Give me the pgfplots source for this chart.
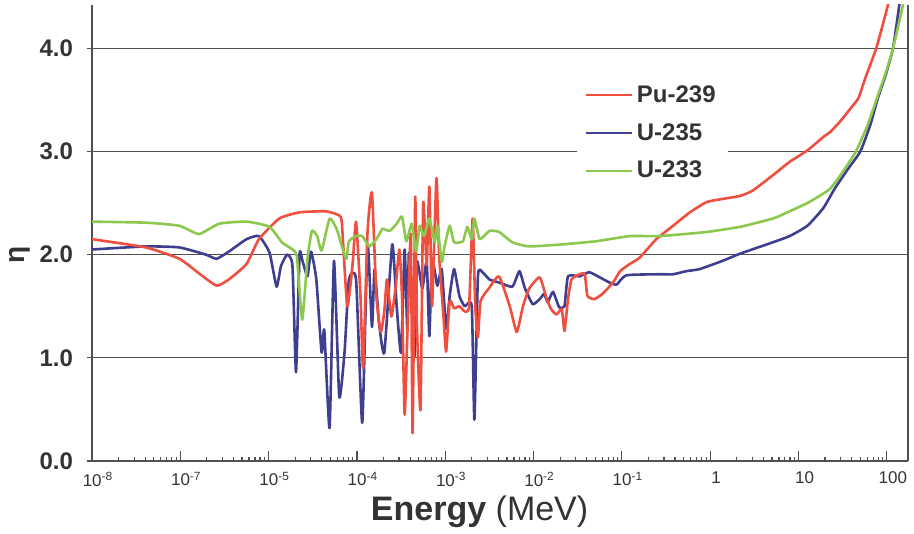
\documentclass[border=0pt]{standalone}
\usepackage{fontspec}
\setmainfont{Liberation Sans}
\usepackage{pgfplots}
\pgfplotsset{compat=1.18}
\definecolor{cpu}{HTML}{F04E3E}
\definecolor{cu5}{HTML}{3F3F8F}
\definecolor{cu3}{HTML}{8CC84E}
\definecolor{txt}{HTML}{333333}
\definecolor{gridc}{HTML}{505050}

\begin{document}
\begin{tikzpicture}
% minor ticks: 2..9 within each decade (x is log10 of energy)
\def\mtl{}
\foreach \d in {-8,...,1}{\foreach \o in {0.301,0.477,0.602,0.699,0.778,0.845,0.903,0.954}{\pgfmathsetmacro\v{\d+\o}\xdef\mtl{\mtl\v,}}}
\begin{axis}[
    scale only axis,
    width=408pt, height=228pt,
    xmin=-8, xmax=1.24,
    ymin=0, ymax=4.42,
    axis x line*=bottom,
    axis y line*=box,
    ytick pos=left,
    axis line style={gridc, line width=0.7pt},
    xtick={-8,-7,-6,-5,-4,-3,-2,-1,0,1},
    xticklabels={10\textsuperscript{-8},10\textsuperscript{-7},10\textsuperscript{-5},10\textsuperscript{-4},10\textsuperscript{-3},10\textsuperscript{-2},10\textsuperscript{-1},1,10,100},
    minor xtick/.expanded={\mtl 9},
    xtick align=inside,
    ytick={0,1,2,3,4},
    yticklabels={0.0,1.0,2.0,3.0,4.0},
    ytick align=center,
    major tick length=5pt,
    minor tick length=2pt,
    tick style={gridc, line width=0.6pt},
    xticklabel style={font=\fontsize{8.5}{10}\selectfont, text=txt, xshift=3pt, yshift=-2pt},
    yticklabel style={font=\bfseries\fontsize{12}{14}\selectfont, text=txt, xshift=-3.5pt},
    ymajorgrids,
    grid style={gridc, line width=0.6pt},
    xlabel={\textbf{Energy} (MeV)},
    every axis x label/.style={at={(rel axis cs:0.475,0)}, anchor=center, yshift=-25.5pt, font=\fontsize{17}{19}\selectfont, text=txt},
    ylabel={\textbf{η}},
    every axis y label/.style={at={(rel axis cs:0,0.452)}, anchor=center, xshift=-36pt, rotate=90, font=\fontsize{14}{16}\selectfont, text=txt},
    legend style={at={(rel axis cs:0.594,0.855)}, anchor=north west, draw=none, fill=white,
        font=\bfseries\fontsize{12}{14}\selectfont, text=txt, row sep=5pt,
        inner xsep=4pt, inner ysep=5pt, cells={anchor=west}},
    legend image code/.code={\draw[#1] (0pt,0pt) -- (23pt,0pt);},
    every axis plot/.append style={line width=1.3pt, line join=round, smooth, tension=0.3},
]
\addlegendimage{draw=cpu, line width=0.9pt}\addlegendentry{Pu-239}
\addlegendimage{draw=cu5, line width=0.9pt}\addlegendentry{U-235}
\addlegendimage{draw=cu3, line width=0.9pt}\addlegendentry{U-233}

% U-235
\addplot[cu5, forget plot] coordinates {(-8.00,2.05) (-7.39,2.08) (-7.01,2.07) (-6.71,2.00) (-6.59,1.96) (-6.45,2.03) (-6.25,2.15) (-6.11,2.18) (-5.99,2.02) (-5.91,1.69) (-5.86,1.89) (-5.79,2.00) (-5.73,1.89) (-5.69,0.86) (-5.65,2.00) (-5.62,1.95) (-5.56,1.79) (-5.52,2.03) (-5.46,1.76) (-5.40,1.05) (-5.37,1.27) (-5.31,0.32) (-5.26,1.94) (-5.20,0.62) (-5.14,1.06) (-5.09,1.76) (-5.01,1.76) (-4.94,0.37) (-4.88,2.10) (-4.83,1.30) (-4.80,1.86) (-4.75,1.34) (-4.69,1.05) (-4.60,2.10) (-4.55,1.50) (-4.50,1.05) (-4.46,2.05) (-4.43,1.28) (-4.41,2.02) (-4.35,1.01) (-4.32,1.93) (-4.26,1.67) (-4.21,1.93) (-4.18,1.21) (-4.15,1.96) (-4.09,1.70) (-4.04,1.86) (-3.99,1.28) (-3.95,1.60) (-3.90,1.86) (-3.84,1.60) (-3.78,1.50) (-3.70,1.50) (-3.67,0.40) (-3.63,1.79) (-3.58,1.83) (-3.50,1.76) (-3.39,1.73) (-3.24,1.69) (-3.16,1.84) (-3.10,1.68) (-3.01,1.52) (-2.93,1.57) (-2.88,1.62) (-2.84,1.54) (-2.78,1.64) (-2.71,1.49) (-2.65,1.50) (-2.61,1.79) (-2.48,1.79) (-2.37,1.83) (-2.25,1.78) (-2.14,1.73) (-2.06,1.71) (-1.95,1.80) (-1.57,1.81) (-1.42,1.81) (-1.27,1.84) (-1.12,1.86) (-0.86,1.94) (-0.66,2.01) (-0.29,2.12) (-0.10,2.18) (0.10,2.28) (0.28,2.45) (0.41,2.64) (0.56,2.83) (0.70,3.00) (0.81,3.25) (0.90,3.52) (0.99,3.75) (1.07,4.00) (1.14,4.41) (1.17,4.60)};

% Pu-239
\addplot[cpu, forget plot] coordinates {(-8.00,2.15) (-7.39,2.07) (-7.01,1.96) (-6.79,1.82) (-6.59,1.70) (-6.45,1.76) (-6.25,1.91) (-6.11,2.15) (-5.88,2.35) (-5.65,2.41) (-5.35,2.42) (-5.20,2.38) (-5.17,2.30) (-5.11,1.50) (-5.05,1.90) (-5.01,2.32) (-4.96,1.60) (-4.93,0.90) (-4.88,2.22) (-4.83,2.60) (-4.78,1.60) (-4.73,1.25) (-4.69,1.45) (-4.66,1.76) (-4.61,1.40) (-4.56,1.70) (-4.52,2.05) (-4.49,1.60) (-4.46,0.45) (-4.43,1.20) (-4.39,2.20) (-4.37,0.27) (-4.34,2.56) (-4.32,1.30) (-4.28,0.50) (-4.25,2.50) (-4.21,1.90) (-4.18,2.66) (-4.15,1.50) (-4.10,2.74) (-4.07,2.00) (-4.02,1.40) (-3.99,1.06) (-3.95,1.55) (-3.90,1.48) (-3.84,1.50) (-3.78,1.45) (-3.73,1.50) (-3.69,2.35) (-3.66,1.50) (-3.63,1.20) (-3.60,1.55) (-3.50,1.68) (-3.39,1.79) (-3.27,1.50) (-3.19,1.25) (-3.12,1.50) (-3.05,1.67) (-2.93,1.78) (-2.85,1.57) (-2.80,1.47) (-2.74,1.42) (-2.68,1.47) (-2.65,1.26) (-2.61,1.57) (-2.57,1.76) (-2.48,1.81) (-2.42,1.81) (-2.39,1.60) (-2.31,1.57) (-2.22,1.62) (-2.10,1.73) (-2.02,1.84) (-1.91,1.91) (-1.80,1.97) (-1.61,2.15) (-1.42,2.28) (-1.23,2.41) (-1.04,2.51) (-0.86,2.54) (-0.66,2.57) (-0.52,2.62) (-0.29,2.77) (-0.10,2.90) (0.10,3.01) (0.28,3.14) (0.36,3.19) (0.47,3.29) (0.62,3.45) (0.68,3.52) (0.76,3.72) (0.88,4.00) (1.01,4.41) (1.05,4.60)};

% U-233
\addplot[cu3, forget plot] coordinates {(-8.00,2.32) (-7.39,2.31) (-7.01,2.28) (-6.79,2.20) (-6.56,2.30) (-6.25,2.32) (-5.99,2.27) (-5.85,2.12) (-5.73,2.05) (-5.68,1.98) (-5.62,1.37) (-5.56,1.96) (-5.51,2.23) (-5.45,2.18) (-5.40,2.04) (-5.31,2.35) (-5.23,2.25) (-5.17,2.08) (-5.12,1.96) (-5.09,2.13) (-5.01,2.18) (-4.94,2.18) (-4.86,2.08) (-4.78,2.15) (-4.71,2.25) (-4.63,2.23) (-4.55,2.30) (-4.49,2.37) (-4.44,2.13) (-4.38,2.30) (-4.33,2.03) (-4.29,2.28) (-4.24,2.18) (-4.18,2.35) (-4.12,2.12) (-4.09,2.28) (-4.04,1.93) (-4.01,2.07) (-3.95,2.28) (-3.90,2.12) (-3.80,2.13) (-3.75,2.27) (-3.70,2.15) (-3.67,2.35) (-3.61,2.15) (-3.50,2.23) (-3.39,2.22) (-3.24,2.12) (-3.05,2.08) (-2.67,2.10) (-2.29,2.13) (-1.91,2.18) (-1.57,2.18) (-1.04,2.22) (-0.66,2.27) (-0.29,2.35) (-0.10,2.42) (0.10,2.50) (0.24,2.57) (0.36,2.64) (0.50,2.80) (0.65,3.00) (0.78,3.25) (0.89,3.52) (0.99,3.77) (1.07,4.00) (1.18,4.41) (1.21,4.60)};
\end{axis}
\pgfresetboundingbox
\path ([xshift=-46pt,yshift=-36.5pt]current axis.south west) rectangle ([xshift=3pt,yshift=2.5pt]current axis.north east);
\end{tikzpicture}
\end{document}
